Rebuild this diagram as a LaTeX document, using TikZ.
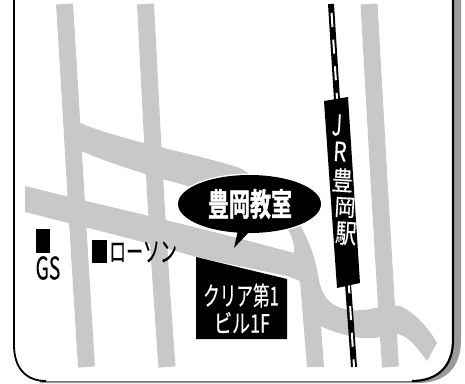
\documentclass[tikz,border=0pt]{standalone}
\usepackage{fontspec}
\setmainfont{Noto Sans CJK JP}
\newfontfamily\heavycjk[FakeBold=1.6]{Noto Sans CJK JP Bold}
\newfontfamily\midcjk[FakeBold=0.4]{Noto Sans CJK JP}
\definecolor{roadgray}{HTML}{C8C8C8}
\definecolor{shadowgray}{HTML}{9A9A9A}
\tikzset{
  road/.style={draw=roadgray,line width=17pt,line cap=butt,line join=round},
  whitelabel/.style={text=white,inner sep=0pt,align=center},
  blacklabel/.style={text=black,inner sep=0pt}
}
\begin{document}
\begin{tikzpicture}[x=1pt,y=-1pt]
\useasboundingbox (0,0) rectangle (465,383);
% frame with shadow
\fill[shadowgray] (40,381) -- (418,381) .. controls (440,381) and (453,366) .. (453,340) -- (453,0) -- (461,0) -- (461,340) .. controls (461,368) and (445,383) .. (418,383) -- (40,383) -- cycle;
\draw[black,line width=1.8pt] (14,0) -- (14,345) .. controls (14,368) and (26,381) .. (46,381);
\draw[black!55,line width=1pt] (46,381.5) -- (412,381.5);
\draw[black,line width=2.2pt] (412,381) .. controls (438,381) and (453,366) .. (453,340) -- (453,0);
% roads
\draw[road] (64.5,4) .. controls (70,90) and (76,200) .. (86.5,367);
\draw[road] (145.5,4) .. controls (150,90) and (156,220) .. (167,367);
\draw[road] (369,4) .. controls (374,90) and (382,240) .. (390.5,367);
% diagonal road ending in the curve
\fill[roadgray] (80,123) .. controls (130,143) and (190,152) .. (240,168) -- (275,190)
  .. controls (300,220) and (313,245) .. (318,275) .. controls (322,300) and (332,307) .. (350,310)
  .. controls (372,312) and (385,303) .. (400,306) .. controls (415,312) and (430,330) .. (437,343)
  -- (427,361) .. controls (415,345) and (408,336) .. (397,334)
  .. controls (380,338) and (365,340) .. (350,336) .. controls (338,333) and (328,330) .. (321,326)
  -- (324,367) -- (307,367) -- (300,281)
  -- (287,276) -- (196,257) .. controls (150,243) and (80,226) .. (25,212) -- (25,186)
  .. controls (100,205) and (180,222) .. (294,253) .. controls (296,235) and (280,215) .. (265,205)
  .. controls (200,190) and (130,172) .. (81,151) -- cycle;
% railway
\draw[black,line width=6pt,line cap=butt] (331,4) -- (337,100) (348,284) -- (354,367);
\draw[white,line width=2pt,dash pattern=on 14pt off 12.7pt,dash phase=-9pt] (331,4) -- (354,367);
% station
\fill[black] (324,101) -- (348,97) -- (360,283) -- (337,288) -- cycle;
\begin{scope}[every node/.style={whitelabel,rotate=-3.5}]
\node[xscale=.9,yscale=1.45,font=\fontsize{20}{20}\midcjk] (j) at (337,125) {J};
\node[xscale=.95,yscale=1.2,font=\fontsize{22}{22}\midcjk] (r) at (340,151.5) {R};
\node[yscale=1.25,font=\fontsize{21}{21}\midcjk] (toyo) at (342.5,180) {豊};
\node[yscale=1.1,font=\fontsize{21}{21}\midcjk] (oka) at (345,207.5) {岡};
\node[yscale=1.25,font=\fontsize{21}{21}\midcjk] (eki) at (346,233.5) {駅};
\end{scope}
% building
\fill[black] (196,257) -- (287,279) -- (287,339) -- (196,339) -- cycle;
\node[whitelabel,xscale=.83,yscale=1.3,font=\fontsize{20}{20}\midcjk] (build1) at (241,295.5) {クリア第1};
\node[whitelabel,xscale=.9,yscale=1.25,font=\fontsize{20}{20}\midcjk] (build2) at (242,322.5) {ビル1F};
% bubble
\fill[white] (249.5,204) ellipse [x radius=73,y radius=30.5];
\fill[black] (249.5,204) ellipse [x radius=71.5,y radius=29];
\fill[black] (238,230) -- (234,248) -- (250,231) -- cycle;
\node[whitelabel,xscale=1,yscale=1.5,font=\fontsize{21}{21}\heavycjk] (title) at (250,204) {豊岡教室};
% landmarks
\fill[black] (36,229) rectangle (50,253);
\node[blacklabel,xscale=.8,yscale=1.3,font=\fontsize{24}{24}\midcjk] (gs) at (48,268) {GS};
\fill[black] (92,240) rectangle (107,263);
\node[blacklabel,anchor=west,xscale=.77,yscale=1.25,font=\fontsize{22}{22}\midcjk] (lawson) at (109,252) {ローソン};
\end{tikzpicture}
\end{document}
